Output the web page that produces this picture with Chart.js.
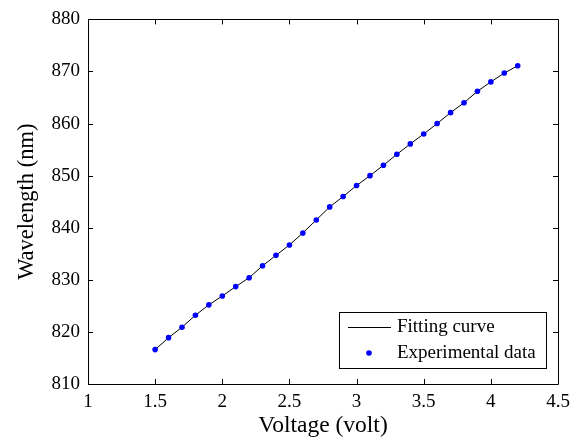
<!DOCTYPE html>
<html>
<head>
<meta charset="utf-8">
<script src="https://cdn.jsdelivr.net/npm/chart.js@4/dist/chart.umd.min.js"></script>
<style>
  html, body { margin: 0; padding: 0; background: #fff; }
  #wrap { width: 580px; height: 443px; }
</style>
</head>
<body>
<div id="wrap"><canvas id="lineChart" width="580" height="443"></canvas></div>
<script>
const voltage = [1.5, 1.6, 1.7, 1.8, 1.9, 2.0, 2.1, 2.2, 2.3, 2.4, 2.5, 2.6, 2.7, 2.8,
                 2.9, 3.0, 3.1, 3.2, 3.3, 3.4, 3.5, 3.6, 3.7, 3.8, 3.9, 4.0, 4.1, 4.2];
const wavelength = [816.6, 818.9, 820.9, 823.2, 825.2, 826.9, 828.7, 830.4, 832.7, 834.7,
                    836.7, 839.0, 841.5, 844.0, 846.0, 848.1, 850.0, 852.0, 854.1, 856.1,
                    858.0, 860.0, 862.1, 864.0, 866.2, 868.0, 869.7, 871.1];
const fitWavelength = wavelength.slice();
const xTicks = [1, 1.5, 2, 2.5, 3, 3.5, 4, 4.5];
const yTicks = [810, 820, 830, 840, 850, 860, 870, 880];
const legendLabels = ["Fitting curve", "Experimental data"];

const FONT = "'Liberation Serif', 'Times New Roman', serif";
const CHART = document.getElementById("lineChart");

// frame, inward ticks on all four sides, and the legend box
const matlabAxes = {
    id: 'matlabAxes',
    afterDraw(chart) {
        const ctx = chart.ctx;
        const a = chart.chartArea;
        const xs = chart.scales.x, ys = chart.scales.y;
        const tl = 5;
        ctx.save();
        ctx.strokeStyle = '#000';
        ctx.lineWidth = 1;
        ctx.beginPath();
        ctx.rect(Math.round(a.left) + 0.5, Math.round(a.top) + 0.5,
                 Math.round(a.right - a.left), Math.round(a.bottom - a.top));
        ctx.stroke();
        ctx.beginPath();
        xTicks.forEach(v => {
            const px = Math.round(xs.getPixelForValue(v)) + 0.5;
            ctx.moveTo(px, a.bottom); ctx.lineTo(px, a.bottom - tl);
            ctx.moveTo(px, a.top); ctx.lineTo(px, a.top + tl);
        });
        yTicks.forEach(v => {
            const py = Math.round(ys.getPixelForValue(v)) + 0.5;
            ctx.moveTo(a.left, py); ctx.lineTo(a.left + tl, py);
            ctx.moveTo(a.right, py); ctx.lineTo(a.right - tl, py);
        });
        ctx.stroke();

        // legend
        const bx = 339.5, by = 312.5, bw = 207, bh = 56;
        ctx.fillStyle = '#fff';
        ctx.fillRect(bx, by, bw, bh);
        ctx.strokeRect(bx, by, bw, bh);
        ctx.beginPath();
        ctx.moveTo(348, 327.5); ctx.lineTo(391, 327.5);
        ctx.stroke();
        ctx.fillStyle = '#0000ff';
        ctx.beginPath();
        ctx.arc(369, 353, 2.8, 0, Math.PI * 2);
        ctx.fill();
        ctx.fillStyle = '#000';
        ctx.font = '19px ' + FONT;
        ctx.textBaseline = 'middle';
        ctx.textAlign = 'left';
        ctx.fillText(legendLabels[0], 397, 327);
        ctx.fillText(legendLabels[1], 397, 353);
        ctx.restore();
    }
};

let lineChart = new Chart(CHART, {
    type: 'scatter',
    data: {
        datasets: [
            {
                label: legendLabels[0],
                type: 'line',
                data: voltage.map((v, i) => ({x: v, y: fitWavelength[i]})),
                borderColor: '#000',
                borderWidth: 1,
                pointRadius: 0,
                fill: false,
                tension: 0,
                order: 2
            }, {
                label: legendLabels[1],
                data: voltage.map((v, i) => ({x: v, y: wavelength[i]})),
                backgroundColor: '#0000ff',
                borderColor: '#0000ff',
                pointRadius: 2.8,
                pointBorderWidth: 0,
                order: 1
            }
        ]
    },
    options: {
        responsive: false,
        animation: false,
        layout: { padding: { top: 15, right: 22, left: 0, bottom: 0 } },
        plugins: { legend: { display: false }, tooltip: { enabled: false } },
        scales: {
            x: {
                type: 'linear',
                min: 1, max: 4.5,
                grid: { display: false, drawTicks: false },
                border: { display: false },
                afterBuildTicks: s => { s.ticks = xTicks.map(v => ({value: v})); },
                afterFit: s => { s.height = 59; },
                ticks: {
                    color: '#000', padding: 7,
                    font: { family: FONT, size: 19 },
                    callback: v => String(v)
                },
                title: {
                    display: true, text: 'Voltage (volt)', color: '#000',
                    font: { family: FONT, size: 23.5 },
                    padding: { top: 0, bottom: 3 }
                }
            },
            y: {
                type: 'linear',
                min: 810, max: 880,
                grid: { display: false, drawTicks: false },
                border: { display: false },
                afterBuildTicks: s => { s.ticks = yTicks.map(v => ({value: v})); },
                afterFit: s => { s.width = 88; },
                ticks: {
                    color: '#000', padding: 8,
                    font: { family: FONT, size: 19 },
                    callback: v => String(v)
                },
                title: {
                    display: true, text: 'Wavelength (nm)', color: '#000',
                    font: { family: FONT, size: 22.5 },
                    padding: { top: 14, bottom: 0 }
                }
            }
        }
    },
    plugins: [matlabAxes]
});
</script>
</body>
</html>
